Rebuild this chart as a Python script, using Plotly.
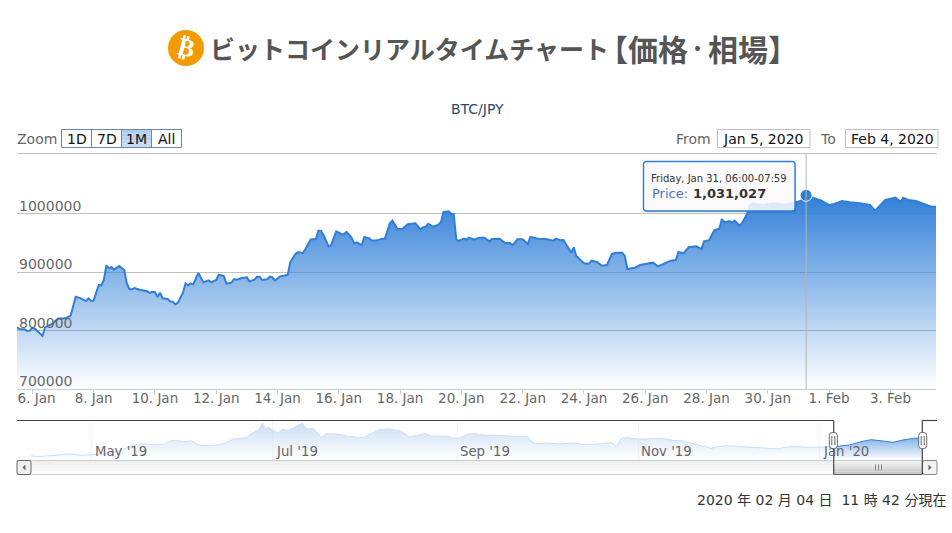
import pandas as pd
import plotly.graph_objects as go

W, H = 952, 533

# ---------- data ----------
# main series: hours after 2020-01-06 00:00, price in JPY
price_hours = [-12,-10,-6,-4,-2,0,2,4,8,10,14,16,20,26,30,34,38,42,44,46,48,52,54,56,58,60,62,64,68,72,74,76,78,80,84,90,92,94,96,98,100,102,106,108,110,112,114,118,120,122,124,126,130,134,138,140,144,146,150,152,156,158,160,164,168,170,174,176,178,180,184,186,188,190,194,200,202,206,208,212,214,218,222,224,
 226,228,232,234,238,242,244,246,250,252,254,258,260,264,266,270,274,276,280,282,286,290,294,300,304,306,308,310,314,318,320,322,326,328,330,332,334,338,340,342,346,350,354,358,360,366,370,374,376,380,384,388,390,396,402,408,410,414,416,420,422,424,426,432,436,438,442,446,450,454,458,462,464,466,472,
 476,482,486,490,494,500,504,506,510,514,520,524,526,530,534,538,540,542,546,548,550,554,556,560,562,564,572,576,580,586,590,596,602,606,612,618,624,628,634,640,648,656,660,668,676,680,682,686,692,700,704,708]
price_values = [805400,802600,802000,799100,799700,804300,803100,798600,790600,805400,810000,812200,820200,820800,825400,857800,855000,850400,855000,850400,851000,877800,877200,886300,911400,906300,908500,904000,910300,903400,880600,870900,870400,872600,869800,867000,864100,866400,865800,857300,864700,855000,853800,849800,849300,844700,847600,864700,880600,877200,880600,878900,898300,882300,885800,882300,886300,895400,893200,880100,881800,888000,886900,889700,890900,884000,886900,892000,892000,886300,887500,892000,890900,885200,892600,894900,916500,930800,933600,932500,939900,955800,956400,970700,
 970700,963200,943900,946100,969500,965000,964400,968400,958700,949000,950700,946100,959800,957500,953600,954100,957000,956400,983200,987700,973500,974100,981500,983200,972900,976300,977500,982600,977500,980900,985500,1002600,1003700,999700,999100,955800,953000,957000,955300,958700,955300,958700,958700,952400,956400,957000,950100,949600,945600,955800,955800,947900,959800,957000,956400,953600,957000,954100,954700,940400,933000,942200,927300,914800,914200,919400,917100,910800,912000,931300,933000,933000,927300,905100,907400,
 911970,914200,915950,909700,913700,919400,920500,934200,931900,942200,943900,939300,952400,954100,971200,974100,990600,984900,987200,984300,987800,978600,984300,1000300,1014500,1017400,1014500,1015700,1017400,1016200,1015700,1017400,1021900,1031027,1025900,1021900,1014500,1016200,1021400,1019100,1017400,1014500,1004800,1023100,1027100,1020200,1027100,1023100,1021400,1014500,1011700,1011700]

# navigator series: days after 2019-04-01, price in JPY
nav_days = [9.6,11.6,16.1,23.4,26.2,30,31.8,35.2,38.5,41.9,44.1,46.9,49.2,52,54.2,57,58.7,60.9,63.7,66,68.8,72.1,74.9,77.7,82.2,83.3,86.1,87.5,88.4,89.5,91.2,92.9,94,96.2,98.5,100.9,102.4,104.6,105.7,107.4,109.1,111.3,113.5,115.8,118,119.7,121.9,124.2,127,129.8,132,134.3,137,139.3,142.1,144.4,147.2,150,151.6,153.9,156.1,158.9,161.7,165.6,169,171.8,176.8,178,179.6,183,187.5,192,195.3,199.3,202.1,204.9,206.6,208.3,210.5,212.8,215.6,218.9,221.7,225.6,229,232.4,235.2,238.5,240.2,243.6,246.9,251.4,255.9,261.5,262.6,266.5,270.5,274.9,279.4,282.8,285,288.9,292.3,296.2,299.6,303,306.3,309.4]
nav_values = [580900,556000,580900,622500,589000,597500,597500,622500,680900,780900,847500,880900,864200,847500,864200,955900,964200,930900,947500,847500,830900,847500,889200,997500,1030900,1114200,1222500,1397500,1247500,1297500,1205900,1139200,1239200,1214200,1297500,1397500,1247500,1264200,1180900,1031000,1130900,1114200,1114200,1064200,1064200,1022500,1047500,1139200,1230900,1247500,1230900,1180900,1055900,1080900,1130900,1072500,1064200,1064200,1014200,1014200,1114200,1130900,1097500,1097500,1080900,1064200,1064200,930900,880900,897500,872500,897500,864200,864200,889200,905900,806000,1014200,1030900,997500,997500,1014200,1014200,964200,947500,880900,830900,764200,797500,830900,814200,797500,780900,747500,780900,814200,789200,797500,797500,830900,847500,930900,980900,947500,914200,972500,1014200,1022500]

y_ticks = [700000, 800000, 900000, 1000000]
x_tick_dates = ["2020-01-06","2020-01-08","2020-01-10","2020-01-12","2020-01-14","2020-01-16","2020-01-18","2020-01-20","2020-01-22","2020-01-24","2020-01-26","2020-01-28","2020-01-30","2020-02-01","2020-02-03"]
x_tick_text = ["\u00a0\u00a06. Jan","8. Jan","10. Jan","12. Jan","14. Jan","16. Jan","18. Jan","20. Jan","22. Jan","24. Jan","26. Jan","28. Jan","30. Jan","1. Feb","3. Feb"]
nav_tick_dates = ["2019-05-01","2019-07-01","2019-09-01","2019-11-01","2020-01-01"]
nav_tick_text = ["May '19","Jul '19","Sep '19","Nov '19","Jan '20"]
hover_date = "2020-01-31 06:00"
hover_price = 1031027
view_start = "2020-01-05 12:00"
view_end = "2020-02-04 11:42"
nav_start = "2019-04-05 22:00"

title_kana = "ビットコインリアルタイムチャート"
title_open = "【価格"
title_dot = "・"
title_close = "相場】"
BLUE = "#2F7ED8"
SANS = "DejaVu Sans"
CJK = "Noto Sans CJK JP"

t0 = pd.Timestamp("2020-01-06")
n0 = pd.Timestamp("2019-04-01")
price_dates = [(t0 + pd.Timedelta(hours=h)).isoformat() for h in price_hours]
nav_dates = [(n0 + pd.Timedelta(days=d)).isoformat() for d in nav_days]

def fx(x): return x / W
def fy(y): return 1 - y / H

fig = go.Figure()
fig.add_trace(go.Scatter(
    x=price_dates, y=price_values, mode="lines", xaxis="x", yaxis="y",
    line=dict(color=BLUE, width=2), fill="tozeroy",
    fillgradient=dict(type="vertical", start=700000, stop=1035000,
                      colorscale=[[0, "rgba(47,126,216,0)"], [1, "rgba(47,126,216,1)"]]),
    hoverinfo="skip", showlegend=False))
fig.add_trace(go.Scatter(
    x=[hover_date], y=[hover_price], mode="markers", xaxis="x", yaxis="y",
    marker=dict(size=12, color=BLUE, line=dict(color="white", width=1)),
    hoverinfo="skip", showlegend=False))
fig.add_trace(go.Scatter(
    x=nav_dates, y=nav_values, mode="lines", xaxis="x2", yaxis="y2",
    line=dict(color=BLUE, width=1), fill="tozeroy",
    fillgradient=dict(type="vertical", start=472500, stop=1400000,
                      colorscale=[[0, "rgba(47,126,216,0)"], [1, "rgba(47,126,216,1)"]]),
    hoverinfo="skip", showlegend=False))

shapes = []
def rect(x0, y0, x1, y1, fill="rgba(0,0,0,0)", line=None, lw=1):
    shapes.append(dict(type="rect", xref="paper", yref="paper", x0=fx(x0), x1=fx(x1), y0=fy(y0), y1=fy(y1),
                       fillcolor=fill, line=dict(color=line or "rgba(0,0,0,0)", width=lw if line else 0)))
def seg(x0, y0, x1, y1, color, lw=1):
    shapes.append(dict(type="line", xref="paper", yref="paper", x0=fx(x0), x1=fx(x1), y0=fy(y0), y1=fy(y1),
                       line=dict(color=color, width=lw)))
def rrect(x0, y0, x1, y1, r, fill, line=None, lw=1):
    p = (f"M {fx(x0+r)} {fy(y0)} L {fx(x1-r)} {fy(y0)} Q {fx(x1)} {fy(y0)} {fx(x1)} {fy(y0+r)} "
         f"L {fx(x1)} {fy(y1-r)} Q {fx(x1)} {fy(y1)} {fx(x1-r)} {fy(y1)} L {fx(x0+r)} {fy(y1)} "
         f"Q {fx(x0)} {fy(y1)} {fx(x0)} {fy(y1-r)} L {fx(x0)} {fy(y0+r)} Q {fx(x0)} {fy(y0)} {fx(x0+r)} {fy(y0)} Z")
    shapes.append(dict(type="path", xref="paper", yref="paper", path=p, fillcolor=fill,
                       line=dict(color=line or "rgba(0,0,0,0)", width=lw if line else 0)))
def tri(pts, color):
    p = "M " + " L ".join(f"{fx(a)} {fy(b)}" for a, b in pts) + " Z"
    shapes.append(dict(type="path", xref="paper", yref="paper", path=p, fillcolor=color, line=dict(width=0)))
def vgrad(x0, y0, x1, y1, c0, c1, n=5):
    h = (y1 - y0) / n
    for i in range(n):
        a = i / (n - 1)
        c = tuple(round(c0[k] + (c1[k] - c0[k]) * a) for k in range(3))
        rect(x0, y0 + i * h, x1, y0 + (i + 1) * h, f"rgb{c}")

# bitcoin badge
shapes.append(dict(type="circle", xref="paper", yref="paper", x0=fx(168), x1=fx(204), y0=fy(30), y1=fy(66),
                   fillcolor="#F39A00", line=dict(width=0)))

# range toolbar
seg(17, 153.5, 937, 153.5, "#C0C0C0")
rect(61.5, 129.5, 181.5, 147.5, "white")
vgrad(122, 130, 151, 147, (176, 204, 240), (196, 218, 245))
rect(61.5, 129.5, 181.5, 147.5, line="#6A87A8")
for bx in (91.5, 121.5, 151.5):
    seg(bx, 129.5, bx, 147.5, "#6A87A8")
rect(717.5, 129.5, 810, 147.5, "white", "#C0C0C0")
rect(845.5, 129.5, 938, 147.5, "white", "#C0C0C0")

# crosshair
shapes.append(dict(type="line", xref="x", yref="paper", x0=hover_date, x1=hover_date,
                   y0=fy(389), y1=fy(153), line=dict(color="#B5B5B5", width=1)))

# tooltip
rrect(645, 163, 797, 213, 3, "rgba(0,0,0,0.06)")
rrect(644, 162, 796, 212, 3, "rgba(0,0,0,0.08)")
rrect(643.5, 161.5, 795, 211, 3, "rgba(255,255,255,0.85)", BLUE, 1.4)

# navigator masks over the unselected part
shapes.append(dict(type="rect", xref="x2", yref="paper", x0=nav_start, x1=view_start,
                   y0=fy(460), y1=fy(420.5), fillcolor="rgba(255,255,255,0.75)", line=dict(width=0)))

# scrollbar
vgrad(17, 460, 937, 474, (238, 238, 238), (252, 252, 252))
seg(17, 460.5, 937, 460.5, "#CCCCCC")
seg(17, 474.5, 937, 474.5, "#CCCCCC")
rrect(17, 460.5, 31, 474.5, 2, "#EFEFEF", "#666666")
tri([(25.5, 464.5), (25.5, 470.5), (22.5, 467.5)], "#666666")
rrect(922.5, 460.5, 937, 474.5, 2, "#F2F2F2", "#888888")
tri([(928.5, 464.5), (928.5, 470.5), (931.5, 467.5)], "#666666")
vgrad(834, 461, 922, 474, (240, 240, 240), (200, 200, 200))
seg(834, 474.5, 922, 474.5, "#666666")
for gx in (875.5, 878.5, 881.5):
    seg(gx, 464.5, gx, 470.5, "#888888")

# navigator frame and handles
seg(17, 420.5, 833.7, 420.5, "#444444", 1.2)
seg(922.3, 420.5, 937, 420.5, "#444444", 1.2)
seg(833.7, 420.5, 833.7, 474.5, "#444444", 1.2)
seg(922.3, 420.5, 922.3, 474.5, "#444444", 1.2)
for hx in (833.3, 922.7):
    rrect(hx - 4, 432.5, hx + 4, 448.5, 3, "white", "#666666")
    seg(hx - 1.5, 436, hx - 1.5, 445, "#666666")
    seg(hx + 1.5, 436, hx + 1.5, 445, "#666666")

ann = []
def text(x, y, s, size=14, color="#666666", family=SANS, anchor="left", vanchor="middle", **kw):
    ann.append(dict(xref="paper", yref="paper", x=fx(x), y=fy(y), text=s, showarrow=False,
                    xanchor=anchor, yanchor=vanchor, font=dict(size=size, color=color, family=family),
                    borderpad=0, **kw))

text(209, 48, f"<b>{title_kana}</b>", 25, "#555555", CJK)
text(597, 48, f"<b>{title_open}</b>", 30, "#555555", CJK)
text(697, 48, f"<b>{title_dot}</b>", 19, "#555555", CJK, anchor="center")
text(707, 48, f"<b>{title_close}</b>", 30, "#555555", CJK)
text(186, 48, "<b>₿</b>", 25, "white", SANS, anchor="center", textangle=14)
text(477, 109, "BTC/JPY", 14, "#274B6D", anchor="center")
text(16, 139, "Zoom", 14)
for cx, s in zip((76.5, 106.5, 136.5, 166.5), ("1D", "7D", "1M", "All")):
    text(cx, 138.5, s, 14, "#111111", anchor="center")
text(675, 138.5, "From", 14)
text(819, 138.5, "To", 14)
text(721.5, 138.5, "Jan 5, 2020", 14, "#111111")
text(850, 138.5, "Feb 4, 2020", 14, "#111111")
text(650, 178.5, "Friday, Jan 31, 06:00-07:59", 10, "#333333")
text(650.5, 193, "Price:", 13, "#4F74C4")
text(692, 193, f"<b>{hover_price:,}</b>", 13, "#333333")
text(947, 500, "2020 年 02 月 04 日\u00a0\u00a011 時 42 分現在", 14, "#333333", f"{SANS}, {CJK}", anchor="right")

for v in y_ticks:
    ann.append(dict(xref="paper", yref="y", x=fx(18), y=v, text=str(v), showarrow=False, xanchor="left",
                    yanchor="bottom", yshift=-1, borderpad=0, font=dict(size=14, color="#666666", family=SANS)))
for d, s in zip(nav_tick_dates, nav_tick_text):
    ann.append(dict(xref="x2", yref="paper", x=d, y=fy(451), text=s, showarrow=False, xanchor="left",
                    yanchor="middle", xshift=2, borderpad=0, font=dict(size=13.3, color="#666666", family=SANS)))

fig.update_layout(
    width=W, height=H, margin=dict(l=0, r=0, t=0, b=0, pad=0), autosize=False,
    paper_bgcolor="white", plot_bgcolor="rgba(0,0,0,0)", showlegend=False, hovermode=False,
    shapes=shapes, annotations=ann,
    xaxis=dict(domain=[fx(17), fx(936)], anchor="y", type="date", range=[view_start, view_end],
               tickmode="array", tickvals=x_tick_dates, ticktext=x_tick_text, showgrid=False,
               ticks="outside", ticklen=4, tickcolor="#C0D0E0", showline=True, linecolor="#C0D0E0",
               ticklabelstandoff=-7,
               tickfont=dict(size=13.5, color="#666666", family=SANS), zeroline=False, automargin=False),
    yaxis=dict(domain=[fy(389), fy(153)], anchor="x", range=[700000, 1103419], tickmode="array",
               tickvals=y_ticks, showticklabels=False, gridcolor="#C0C0C0", gridwidth=1, zeroline=False,
               ticks="", automargin=False),
    xaxis2=dict(domain=[fx(17), fx(922.3)], anchor="y2", type="date", range=[nav_start, view_end],
                tickmode="array", tickvals=nav_tick_dates, showticklabels=False, showgrid=True,
                gridcolor="#D8D8D8", gridwidth=1, ticks="", zeroline=False, automargin=False),
    yaxis2=dict(domain=[fy(460), fy(420)], anchor="x2", range=[472500, 1472500], showgrid=False,
                showticklabels=False, zeroline=False, ticks="", automargin=False),
)

fig.write_html("out.html", config={"displayModeBar": False},
               post_script="document.body.style.margin='0';")
